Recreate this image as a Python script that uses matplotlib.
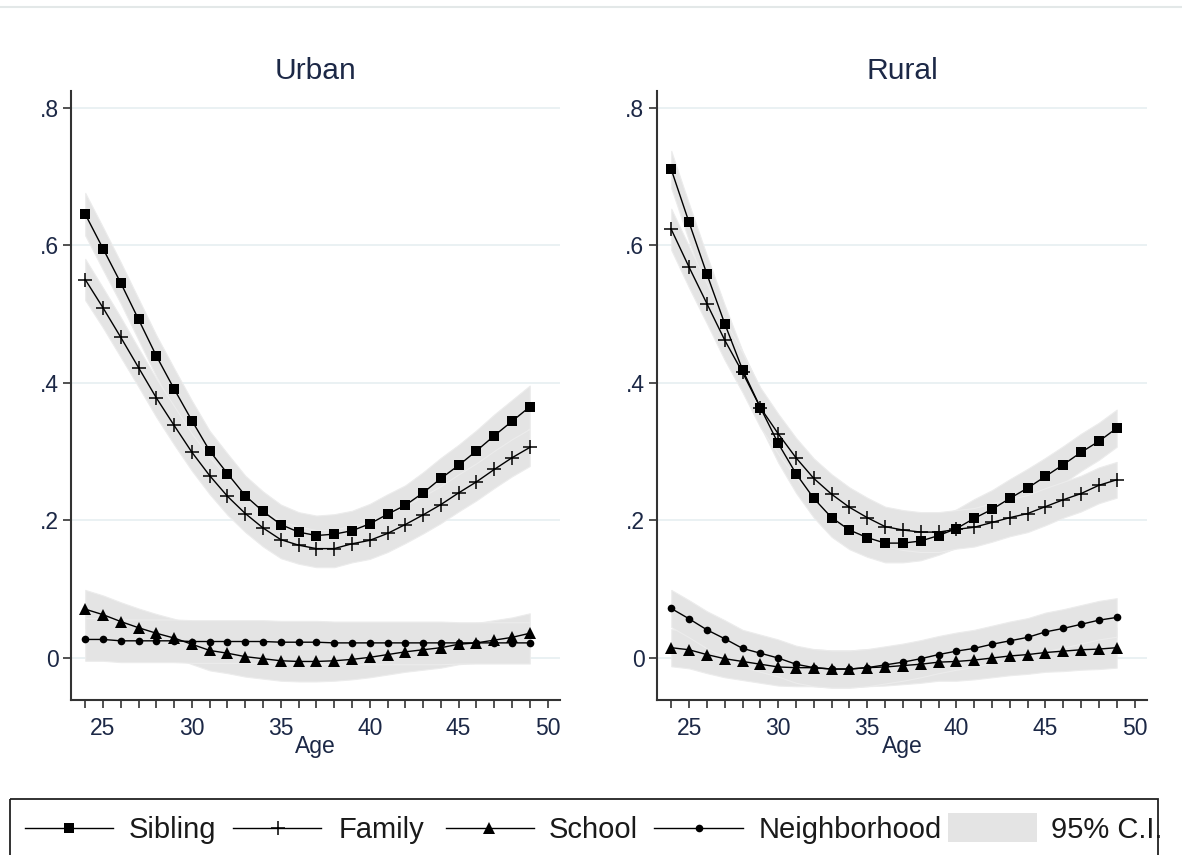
import matplotlib
matplotlib.use("Agg")
import matplotlib.pyplot as plt
from matplotlib.patches import Rectangle
import numpy as np

plt.rcParams['font.family'] = ['Liberation Sans', 'DejaVu Sans']

ages = list(range(24, 50))

# Urban panel estimates
urban_sibling = [0.645, 0.595, 0.545, 0.492, 0.439, 0.391, 0.345, 0.301, 0.268, 0.236,
                 0.213, 0.194, 0.183, 0.178, 0.180, 0.185, 0.195, 0.209, 0.222, 0.240,
                 0.261, 0.280, 0.301, 0.323, 0.344, 0.365]
urban_family = [0.550, 0.509, 0.466, 0.422, 0.378, 0.338, 0.299, 0.265, 0.235, 0.210,
                0.189, 0.172, 0.164, 0.159, 0.159, 0.166, 0.171, 0.181, 0.194, 0.208,
                0.223, 0.240, 0.256, 0.274, 0.291, 0.306]
urban_school = [0.071, 0.063, 0.053, 0.044, 0.036, 0.029, 0.020, 0.011, 0.007, 0.002,
                -0.001, -0.004, -0.005, -0.005, -0.004, -0.002, 0.001, 0.005, 0.009, 0.012,
                0.015, 0.020, 0.022, 0.026, 0.030, 0.036]
urban_neighborhood = [0.027, 0.027, 0.025, 0.025, 0.025, 0.025, 0.024, 0.024, 0.024, 0.024,
                      0.024, 0.023, 0.023, 0.023, 0.022, 0.022, 0.022, 0.022, 0.022, 0.022,
                      0.022, 0.022, 0.022, 0.022, 0.022, 0.022]

# Rural panel estimates
rural_sibling = [0.710, 0.633, 0.558, 0.486, 0.419, 0.364, 0.312, 0.268, 0.232, 0.204,
                 0.186, 0.175, 0.167, 0.167, 0.170, 0.178, 0.188, 0.203, 0.216, 0.232,
                 0.247, 0.264, 0.281, 0.299, 0.315, 0.334]
rural_family = [0.623, 0.568, 0.515, 0.462, 0.415, 0.364, 0.326, 0.291, 0.261, 0.238,
                0.219, 0.204, 0.191, 0.186, 0.183, 0.183, 0.187, 0.190, 0.197, 0.204,
                0.210, 0.220, 0.230, 0.239, 0.251, 0.259]
rural_school = [0.015, 0.012, 0.005, -0.001, -0.005, -0.009, -0.013, -0.014, -0.014, -0.016,
                -0.016, -0.014, -0.013, -0.011, -0.009, -0.006, -0.005, -0.003, 0.000, 0.003,
                0.005, 0.008, 0.010, 0.012, 0.013, 0.015]
rural_neighborhood = [0.072, 0.057, 0.041, 0.028, 0.014, 0.007, 0.000, -0.009, -0.014, -0.016,
                      -0.016, -0.014, -0.010, -0.006, -0.001, 0.005, 0.010, 0.014, 0.020, 0.025,
                      0.030, 0.038, 0.043, 0.049, 0.055, 0.059]

# 95% confidence half-widths
urban_sibling_ci = [0.031, 0.031, 0.030, 0.030, 0.030, 0.030, 0.029, 0.029, 0.029, 0.029,
                    0.029, 0.029, 0.029, 0.029, 0.029, 0.029, 0.029, 0.029, 0.029, 0.030,
                    0.030, 0.030, 0.030, 0.031, 0.031, 0.031]
urban_family_ci = [0.030, 0.029, 0.029, 0.028, 0.028, 0.028, 0.027, 0.027, 0.027, 0.027,
                   0.027, 0.027, 0.027, 0.027, 0.027, 0.027, 0.027, 0.027, 0.027, 0.027,
                   0.027, 0.027, 0.027, 0.027, 0.027, 0.027]
urban_school_ci = [0.028, 0.028, 0.028, 0.028, 0.028, 0.028, 0.029, 0.029, 0.029, 0.029,
                   0.029, 0.029, 0.029, 0.029, 0.029, 0.029, 0.029, 0.029, 0.029, 0.029,
                   0.029, 0.029, 0.029, 0.029, 0.029, 0.029]
urban_neighborhood_ci = [0.031, 0.031, 0.031, 0.031, 0.031, 0.031, 0.031, 0.031, 0.031, 0.031,
                         0.031, 0.031, 0.031, 0.031, 0.031, 0.031, 0.031, 0.031, 0.031, 0.031,
                         0.031, 0.030, 0.030, 0.030, 0.030, 0.030]
rural_sibling_ci = [0.027, 0.027, 0.027, 0.027, 0.027, 0.027, 0.028, 0.028, 0.028, 0.028,
                    0.028, 0.028, 0.028, 0.028, 0.028, 0.028, 0.028, 0.028, 0.028, 0.028,
                    0.028, 0.027, 0.027, 0.027, 0.027, 0.027]
rural_family_ci = [0.030, 0.030, 0.029, 0.029, 0.029, 0.029, 0.029, 0.029, 0.029, 0.029,
                   0.029, 0.029, 0.029, 0.029, 0.029, 0.029, 0.028, 0.028, 0.028, 0.027,
                   0.027, 0.027, 0.026, 0.026, 0.026, 0.026]
rural_school_ci = [0.027, 0.027, 0.027, 0.027, 0.027, 0.027, 0.027, 0.027, 0.027, 0.027,
                   0.027, 0.027, 0.027, 0.027, 0.027, 0.027, 0.028, 0.028, 0.028, 0.028,
                   0.028, 0.028, 0.029, 0.029, 0.029, 0.029]
rural_neighborhood_ci = [0.027, 0.027, 0.027, 0.027, 0.027, 0.027, 0.027, 0.027, 0.027, 0.027,
                         0.027, 0.027, 0.027, 0.027, 0.027, 0.027, 0.027, 0.027, 0.027, 0.028,
                         0.028, 0.028, 0.028, 0.028, 0.028, 0.028]

series_names = ["Sibling", "Family", "School", "Neighborhood"]
ytick_vals = [0, 0.2, 0.4, 0.6, 0.8]
ytick_labels = ["0", ".2", ".4", ".6", ".8"]
xtick_major = [25, 30, 35, 40, 45, 50]

panels = [
    ("Urban", [urban_sibling, urban_family, urban_school, urban_neighborhood],
     [urban_sibling_ci, urban_family_ci, urban_school_ci, urban_neighborhood_ci]),
    ("Rural", [rural_sibling, rural_family, rural_school, rural_neighborhood],
     [rural_sibling_ci, rural_family_ci, rural_school_ci, rural_neighborhood_ci]),
]

styles = [
    dict(marker='s', markersize=7.5, mew=0),
    dict(marker='+', markersize=10, mew=1.1),
    dict(marker='^', markersize=8.0, mew=0),
    dict(marker='o', markersize=5.5, mew=0),
]

W, H = 1182, 855
fig = plt.figure(figsize=(W / 100, H / 100), dpi=100)

TEXT = '#1c2846'
BAND = '#e4e4e4'
axes_px = [(71, 91, 489, 609), (657, 91, 490, 609)]

for (title, vals, cis), (x0, y0, w, h) in zip(panels, axes_px):
    ax = fig.add_axes([x0 / W, 1 - (y0 + h) / H, w / W, h / H])
    x = np.array(ages)
    for v, c in zip(vals, cis):
        v = np.array(v); c = np.array(c)
        ax.fill_between(x, v - c, v + c, color=BAND, ec='#ececec', lw=0.8, zorder=1)
    for v, st in zip(vals, styles):
        ax.plot(x, v, color='black', lw=1.0, mfc='black', mec='black', zorder=3, **st)

    ax.set_xlim(23.2, 50.7)
    ax.set_ylim(-0.061, 0.824)
    ax.set_yticks(ytick_vals)
    ax.set_yticklabels(ytick_labels)
    ticks = list(range(24, 51))
    ax.set_xticks(ticks)
    ax.set_xticklabels([str(t) if t in xtick_major else "" for t in ticks])
    ax.tick_params(axis='both', length=6, width=1.2, color='#333333',
                   labelsize=16.5, labelcolor=TEXT)
    ax.tick_params(axis='x', pad=6)
    ax.tick_params(axis='y', pad=3)
    ax.yaxis.grid(True, color='#e6eff1', lw=1.2)
    ax.set_axisbelow(True)
    for s in ['top', 'right']:
        ax.spines[s].set_visible(False)
    for s in ['left', 'bottom']:
        ax.spines[s].set_color('#333333')
        ax.spines[s].set_linewidth(1.5)
    ax.set_xlabel("Age", fontsize=16.5, color=TEXT, labelpad=-3)
    ax.set_title(title, fontsize=21.6, color=TEXT, pad=8.6)

# Legend and frame drawn in pixel space
lax = fig.add_axes([0, 0, 1, 1])
lax.set_xlim(0, W)
lax.set_ylim(H, 0)
lax.axis('off')
lax.patch.set_visible(False)

lax.plot([0, W], [7, 7], color='#e3e8e8', lw=1.5)
lax.add_patch(Rectangle((10, 799), 1148, 80, fill=False, ec='#222222', lw=1.3))

key_y = 828
keys = [(25, 113, 69, 129), (233, 321, 278, 339), (446, 534, 489, 549), (654, 743, 699, 759)]
for (xa, xb, xm, xt), st, name in zip(keys, styles, series_names):
    lax.plot([xa, xb], [key_y, key_y], color='black', lw=1.0)
    lax.plot([xm], [key_y], color='black', mfc='black', mec='black', **st)
    lax.text(xt, 838, name, fontsize=21, color='#1a1a1a', va='baseline', ha='left')
lax.add_patch(Rectangle((948, 813), 89, 29, color=BAND, lw=0))
lax.text(1051, 838, "95% C.I.", fontsize=21, color='#1a1a1a', va='baseline', ha='left')

fig.savefig("out.png", dpi=100)
